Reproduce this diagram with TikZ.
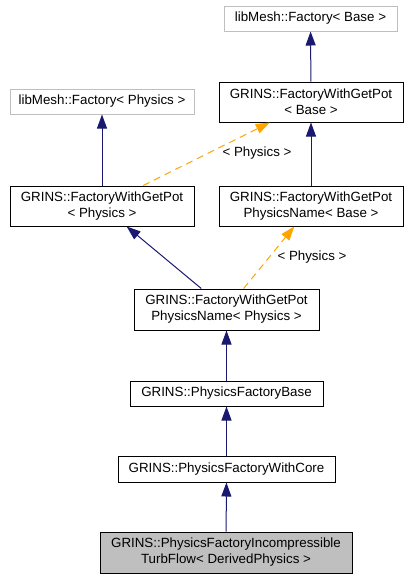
\documentclass[tikz,border=0pt]{standalone}
\usepackage{fontspec}
\setmainfont{Liberation Sans}
\usetikzlibrary{arrows.meta}
\definecolor{navy}{HTML}{191970}
\definecolor{dorange}{HTML}{FFA500}
\definecolor{gborder}{HTML}{BFBFBF}
\definecolor{gfill}{HTML}{BFBFBF}
\tikzset{
  box/.style={draw=black, line width=0.75pt, inner sep=0pt, align=center,
    font=\fontsize{10}{12}\selectfont},
  extbox/.style={box, draw=gborder},
  inh/.style={draw=navy, line width=0.75pt, -{Triangle[length=10.5pt,width=7.5pt,fill=navy]}},
  tmpl/.style={draw=dorange, line width=0.75pt, dash pattern=on 5.25pt off 3.75pt,
    -{Triangle[length=10.5pt,width=7.5pt,fill=dorange]}},
  lbl/.style={inner sep=0pt, font=\fontsize{10}{12}\selectfont},
}
\begin{document}
\begin{tikzpicture}[x=0.75pt,y=-0.75pt]
\useasboundingbox (0,0) rectangle (408,579);
\node[extbox, minimum width=129.75pt, minimum height=18.75pt] (n1) at (310.5,18.5) {libMesh::Factory< Base >};
\node[box, minimum width=138pt, minimum height=30pt] (n2) at (311,102) {GRINS::FactoryWithGetPot\\< Base >};
\node[extbox, minimum width=138pt, minimum height=18.75pt] (n3) at (102,101.5) {libMesh::Factory< Physics >};
\node[box, minimum width=138pt, minimum height=30pt] (n4) at (102,206) {GRINS::FactoryWithGetPot\\< Physics >};
\node[box, minimum width=138pt, minimum height=30pt] (n5) at (311,206) {GRINS::FactoryWithGetPot\\PhysicsName< Base >};
\node[box, minimum width=138.75pt, minimum height=30.75pt] (n6) at (226.5,309.5) {GRINS::FactoryWithGetPot\\PhysicsName< Physics >};
\node[box, minimum width=144.75pt, minimum height=18.75pt] (n7) at (226.5,393.5) {GRINS::PhysicsFactoryBase};
\node[box, minimum width=162.75pt, minimum height=19.5pt] (n8) at (226.5,469) {GRINS::PhysicsFactoryWithCore};
\node[box, fill=gfill, minimum width=189pt, minimum height=30.75pt] (n9) at (226,552.5) {GRINS::PhysicsFactoryIncompressible\\TurbFlow< DerivedPhysics >};

\draw[inh] (n2) -- (n1);
\draw[inh] (n4) -- (n3);
\draw[tmpl] (n4) -- (n2);
\draw[inh] (n5) -- (n2);
\draw[inh] (n6) -- (n4);
\draw[tmpl] (n6) -- (n5);
\draw[inh] (n7) -- (n6);
\draw[inh] (n8) -- (n7);
\draw[inh] (n9) -- (n8);

\node[lbl] (l1) at (257,153) {< Physics >};
\node[lbl] (l2) at (312,257) {< Physics >};
\end{tikzpicture}
\end{document}
